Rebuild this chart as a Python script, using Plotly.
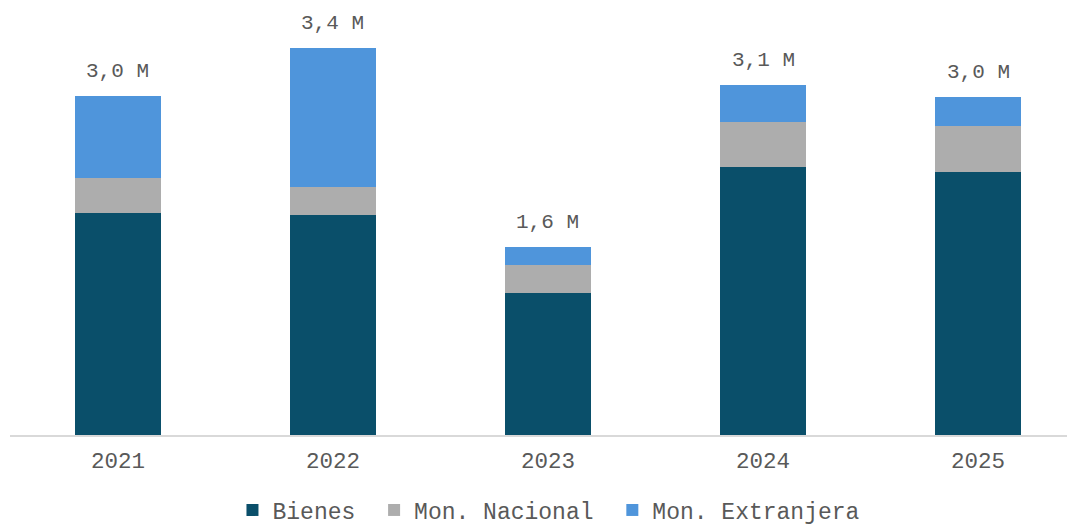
import plotly.graph_objects as go

years = ["2021", "2022", "2023", "2024", "2025"]
bienes = [1.95, 1.93, 1.25, 2.355, 2.31]
mon_nacional = [0.31, 0.25, 0.24, 0.40, 0.41]
mon_extranjera = [0.72, 1.22, 0.16, 0.32, 0.25]
total_labels = ["3,0 M", "3,4 M", "1,6 M", "3,1 M", "3,0 M"]
series_names = ["Bienes", "Mon. Nacional", "Mon. Extranjera"]

FONT = "Liberation Mono, Courier New, monospace"
PAD = "\u00a0"
fig = go.Figure()
fig.add_bar(x=years, y=bienes, name=series_names[0] + PAD, marker_color="#0A4F6A", marker_line_width=0)
fig.add_bar(x=years, y=mon_nacional, name=series_names[1] + PAD, marker_color="#ADADAD", marker_line_width=0)
fig.add_bar(x=years, y=mon_extranjera, name=series_names[2], marker_color="#4F95DB", marker_line_width=0)

totals = [a + b + c for a, b, c in zip(bienes, mon_nacional, mon_extranjera)]
for i, (t, lab) in enumerate(zip(totals, total_labels)):
    # category index position (numeric-looking category names would be read as indices)
    fig.add_annotation(x=i, y=t, xref="x", yref="y", text=lab, showarrow=False,
                       yanchor="bottom", yshift=11,
                       font=dict(family=FONT, size=21, color="#595959"))

# page body has an 8px margin, so the figure is sized to the visible area
W, H = 1067, 518
fig.update_layout(
    barmode="stack", bargap=0.6,
    width=W, height=H,
    margin=dict(l=2, r=0, t=2, b=91, autoexpand=False),
    plot_bgcolor="white", paper_bgcolor="white",
    font=dict(family=FONT, size=20, color="#595959"),
    legend=dict(orientation="h", x=0.507, xanchor="center", xref="container",
                y=1 - 502 / H, yanchor="middle", yref="container",
                font=dict(family=FONT, size=23, color="#595959"), traceorder="normal",
                itemwidth=30),
    showlegend=True,
)
fig.update_xaxes(type="category", range=[-0.502, 4.451], showline=True, linecolor="#D9D9D9",
                 linewidth=2, ticks="", showgrid=False, automargin=False, ticklabelstandoff=4,
                 tickfont=dict(family=FONT, size=22.5, color="#595959"))
fig.update_yaxes(visible=False, range=[0, 3.735], showgrid=False, automargin=False)
fig.write_html("out.html")
